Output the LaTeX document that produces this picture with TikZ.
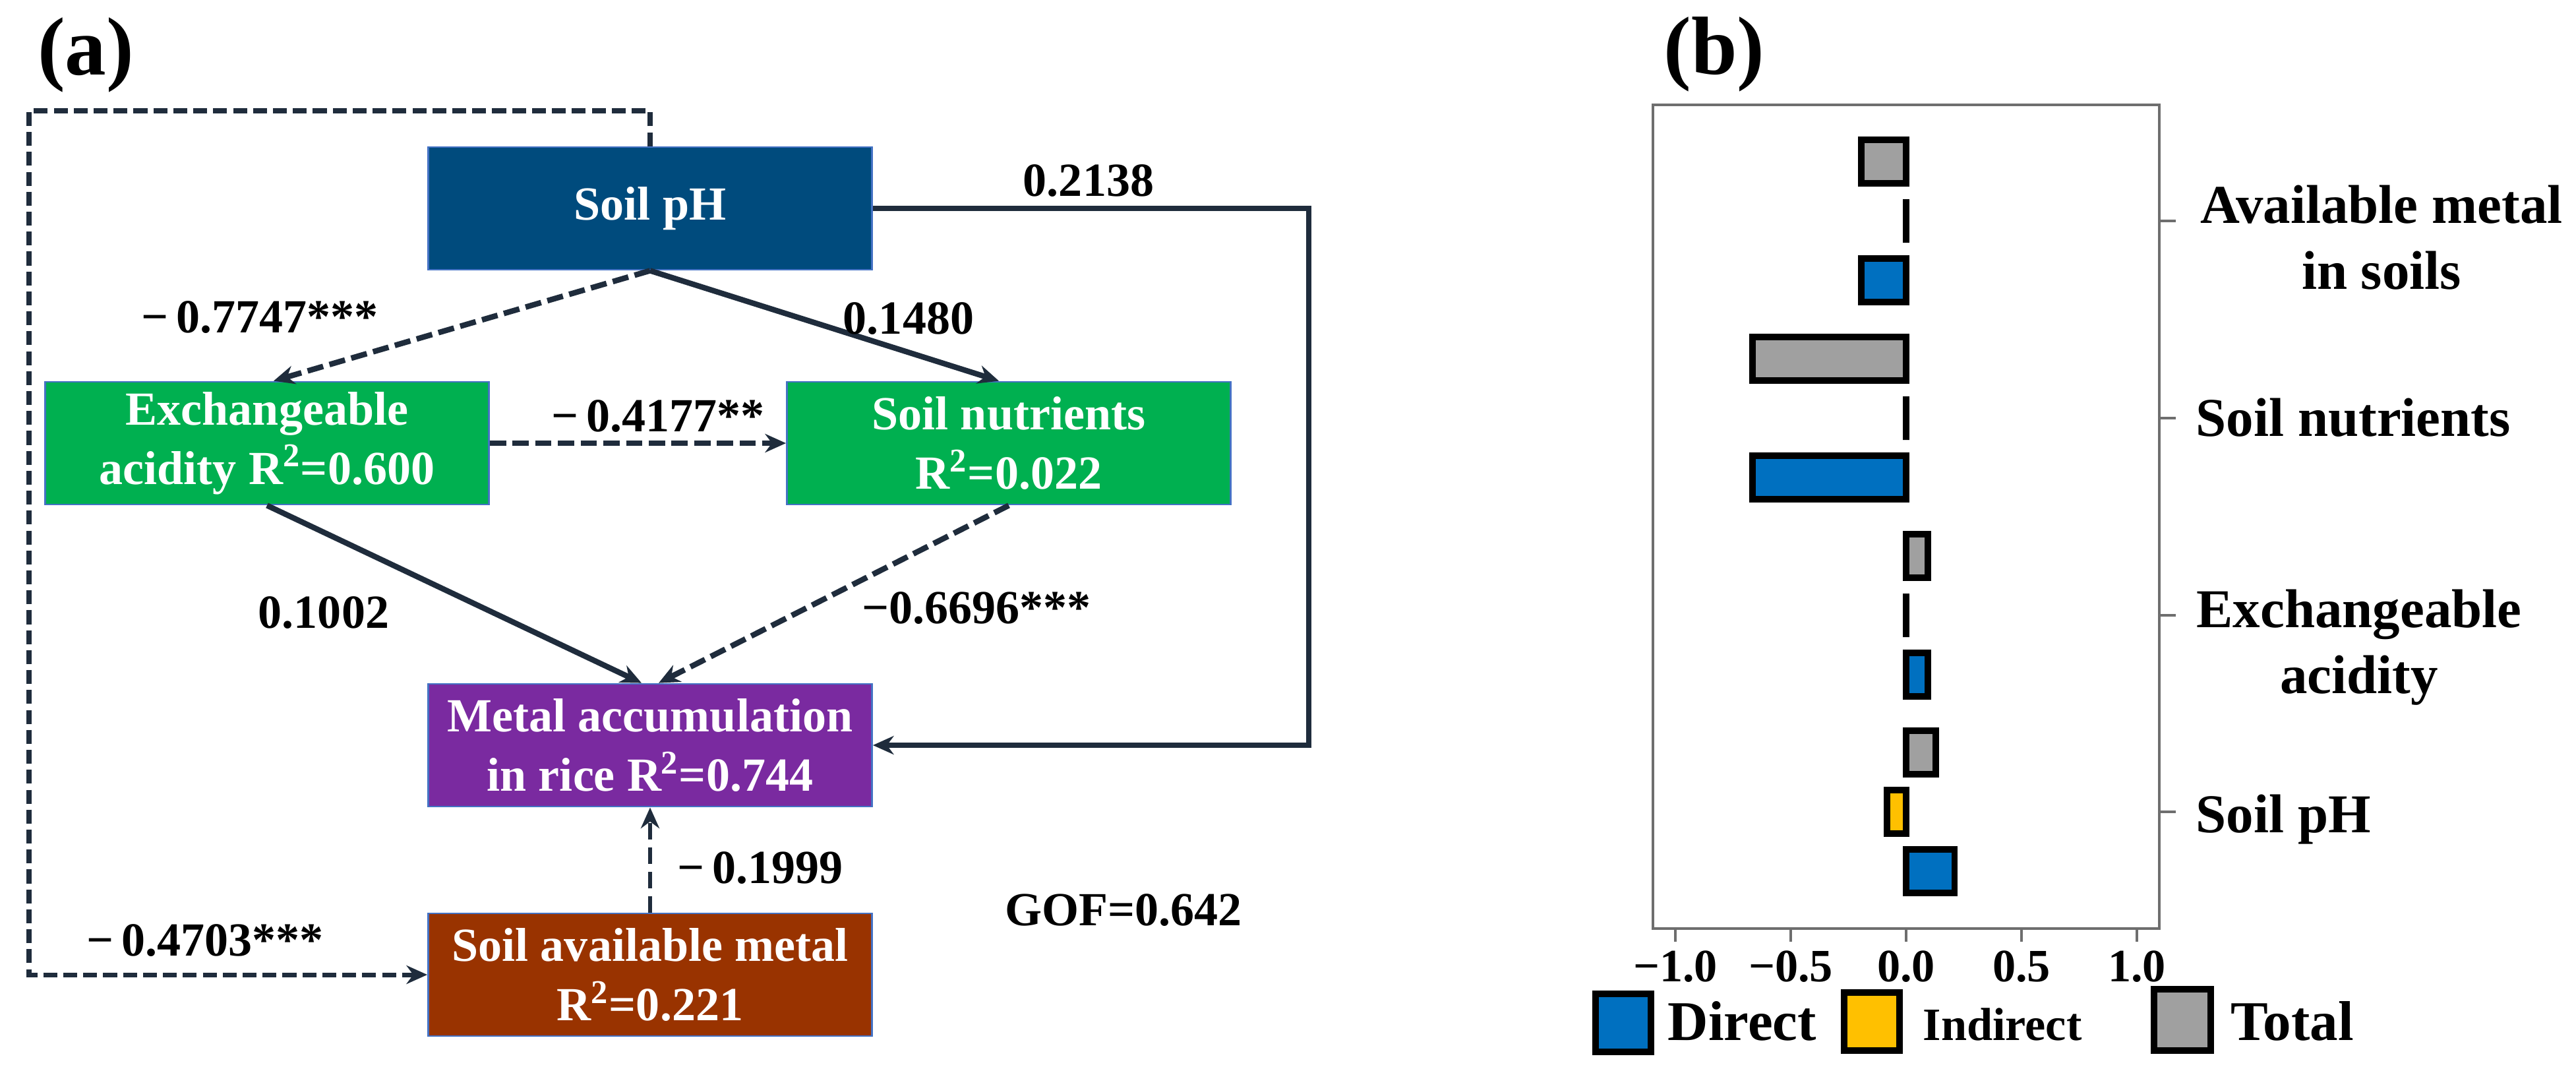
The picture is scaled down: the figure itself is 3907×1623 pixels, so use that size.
\documentclass[tikz,border=0pt]{standalone}
\usepackage{fontspec}
\setmainfont{Liberation Serif}
\usepackage{tikz}
\usetikzlibrary{arrows.meta}
\usepackage{xcolor}

\definecolor{phblue}{RGB}{0,75,125}
\definecolor{boxgreen}{RGB}{0,176,80}
\definecolor{boxpurple}{RGB}{122,42,160}
\definecolor{boxbrown}{RGB}{153,51,0}
\definecolor{boxedge}{RGB}{68,114,196}
\definecolor{pathcol}{RGB}{31,44,60}
\definecolor{directcol}{RGB}{0,112,192}
\definecolor{indirectcol}{RGB}{255,192,0}
\definecolor{totalcol}{RGB}{160,160,160}
\definecolor{plotgray}{RGB}{110,110,110}

\begin{document}
\begin{tikzpicture}[x=0.1mm, y=-0.1mm, font=\bfseries,
    varbox/.style={draw=boxedge, line width=0.8pt, minimum width=67.3mm, minimum height=18.6mm,
        inner sep=0pt, text=white, align=center, font=\bfseries\fontsize{20.5}{25.6}\selectfont},
    coef/.style={inner sep=0pt, font=\bfseries\fontsize{20.5}{24}\selectfont},
    effect/.style={pathcol, line width=2.4pt, -{Stealth[length=9pt, width=8pt]}},
    negeffect/.style={effect, dash pattern=on 7pt off 2.8pt},
    effbar/.style={draw=black, line width=2.8pt},
    catlab/.style={inner sep=0pt, align=center, font=\bfseries\fontsize{23.6}{28.5}\selectfont}]
    \useasboundingbox (0,0) rectangle (3907,1623);

    % Panel labels
    \node [inner sep=0pt, font=\bfseries\fontsize{35.6}{40}\selectfont] (pa) at (130,83) {(a)};
    \node [inner sep=0pt, font=\bfseries\fontsize{35.6}{40}\selectfont] (pb) at (2600,82) {(b)};

    % Boxes
    \node [varbox, fill=phblue] (ph) at (986,316) {Soil pH};
    \node [varbox, fill=boxgreen] (exch) at (405,672) {Exchangeable\\acidity R\textsuperscript{2}=0.600};
    \node [varbox, fill=boxgreen] (nutr) at (1530,672) {Soil nutrients\\R\textsuperscript{2}=0.022};
    \node [varbox, fill=boxpurple] (rice) at (986,1130) {Metal accumulation\\in rice R\textsuperscript{2}=0.744};
    \node [varbox, fill=boxbrown] (avail) at (986,1478) {Soil available metal\\R\textsuperscript{2}=0.221};
    \coordinate (rturn) at (1985,316);
    \coordinate (ltop) at (44,168);

    % Arrows and lines
    \draw [negeffect] (ph.south) -- ([xshift=1mm]exch.north);
    \draw [effect] (ph.south) -- ([xshift=-1.5mm]nutr.north);
    \draw [negeffect] (exch.east) -- (nutr.west);
    \draw [effect] (exch.south) -- ([xshift=-1.3mm]rice.north);
    \draw [negeffect] (nutr.south) -- ([xshift=1.3mm]rice.north);
    \draw [effect] (ph.east) -- (rturn) |- (rice.east);
    \draw [effect, line width=2pt, dash pattern=on 6pt off 2.6pt] (ph.north) |- (ltop) |- (avail.west);
    \draw [effect, line width=1.6pt, dash pattern=on 7pt off 3.5pt] (avail.north) -- (rice.south);

    % Node Labels
    \node [coef] (c1) at (1651,274) {0.2138};
    \node [coef] (c2) at (394,481) {−\,0.7747***};
    \node [coef] (c3) at (1378,483) {0.1480};
    \node [coef] (c4) at (998,631) {−\,0.4177**};
    \node [coef] (c5) at (491,929) {0.1002};
    \node [coef] (c6) at (1481,922) {−0.6696***};
    \node [coef] (c7) at (1153,1316) {−\,0.1999};
    \node [coef] (gof) at (1704,1380) {GOF=0.642};
    \node [coef] (c8) at (311,1426) {−\,0.4703***};

    % Panel b: axes
    \draw [plotgray, line width=0.9pt] (2507,159) rectangle (3275,1408);
    \foreach \v/\t [count=\i] in {-1/−1.0, -0.5/−0.5, 0/0.0, 0.5/0.5, 1/1.0} {
        \draw [plotgray, line width=0.9pt] ({2891+350*(\v)},1408) -- ++(0,20)
            node [anchor=north, inner sep=0pt, yshift=-1.2mm, black, font=\bfseries\fontsize{20}{24}\selectfont] (xt\i) {\t};
    }

    % Panel b: bars (total, indirect, direct)
    \foreach \g/\tv/\iv/\dv in {335/-0.194/0/-0.194, 634/-0.666/0/-0.666, 933/0.094/0/0.094, 1231/0.129/-0.083/0.21} {
        \draw [effbar, fill=totalcol] (2891,{\g-123}) rectangle ({2891+350*(\tv)},{\g-57});
        \draw [effbar, fill=indirectcol] (2891,{\g-33}) rectangle ({2891+350*(\iv)},{\g+33});
        \draw [effbar, fill=directcol] (2891,{\g+57}) rectangle ({2891+350*(\dv)},{\g+123});
        \draw [plotgray, line width=1.2pt] (3275,\g) -- ++(25,0);
    }

    % Panel b: category labels
    \node [catlab] (yam) at (3612,360) {Available metal\\in soils};
    \node [catlab, anchor=base west] (ysn) at (3330,661) {Soil nutrients};
    \node [catlab] (yea) at (3578,982) {Exchangeable\\acidity};
    \node [catlab, anchor=base west] (yph) at (3330,1262) {Soil pH};

    % Legend
    \draw [effbar, fill=directcol] (2420,1507) rectangle (2504,1595);
    \node [inner sep=0pt, anchor=base west, font=\bfseries\fontsize{24.2}{28}\selectfont] (ldir) at (2529,1577) {Direct};
    \draw [effbar, fill=indirectcol] (2797,1505) rectangle (2881,1593);
    \node [inner sep=0pt, anchor=base west, font=\bfseries\fontsize{20}{24}\selectfont] (lind) at (2916,1577) {Indirect};
    \draw [effbar, fill=totalcol] (3267,1500) rectangle (3353,1593);
    \node [inner sep=0pt, anchor=base west, font=\bfseries\fontsize{24.2}{28}\selectfont] (ltot) at (3383,1577) {Total};
\end{tikzpicture}
\end{document}
